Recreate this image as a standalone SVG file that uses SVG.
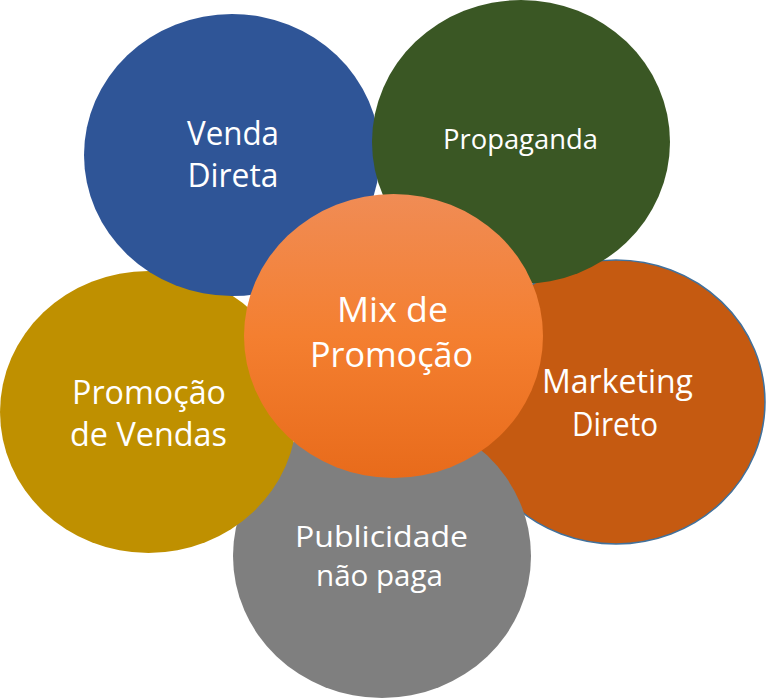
<svg xmlns="http://www.w3.org/2000/svg" width="766" height="700" viewBox="0 0 766 700">
  <defs>
    <linearGradient id="gCenter" x1="0" y1="0" x2="0" y2="1">
      <stop offset="0" stop-color="#F08C55"/>
      <stop offset="0.5" stop-color="#F47F30"/>
      <stop offset="1" stop-color="#E86B1B"/>
    </linearGradient>
  </defs>
  <style>
    text { font-family: "Open Sans", "Liberation Sans", sans-serif; fill: #FFFFFF; text-anchor: middle; }
    .t32 { font-size: 32px; }
    .t30 { font-size: 30px; }
    .t27 { font-size: 27px; }
    .t35 { font-size: 35px; }
  </style>
  <rect width="766" height="700" fill="#FFFFFF"/>
  <g id="connectors"/>
  <g id="marketing-direto">
    <ellipse cx="616" cy="402" rx="149" ry="142" fill="#C55A11" stroke="#41719C" stroke-width="1.5"/>
    <text class="t32" x="617.5" y="393" textLength="151" lengthAdjust="spacingAndGlyphs">Marketing</text>
    <text class="t32" x="615" y="436" textLength="86" lengthAdjust="spacingAndGlyphs">Direto</text>
  </g>
  <g id="publicidade-nao-paga">
    <ellipse cx="382" cy="556" rx="149" ry="142" fill="#7F7F7F"/>
    <text class="t30" x="381.5" y="547" textLength="173" lengthAdjust="spacingAndGlyphs">Publicidade</text>
    <text class="t30" x="379.5" y="586" textLength="127" lengthAdjust="spacingAndGlyphs">não paga</text>
  </g>
  <g id="promocao-de-vendas">
    <ellipse cx="148.5" cy="412" rx="148.5" ry="141" fill="#BF9000"/>
    <text class="t32" x="149" y="404" textLength="154" lengthAdjust="spacingAndGlyphs">Promoção</text>
    <text class="t32" x="148.5" y="446" textLength="157" lengthAdjust="spacingAndGlyphs">de Vendas</text>
  </g>
  <g id="venda-direta">
    <ellipse cx="232" cy="155" rx="148" ry="141" fill="#2F5597"/>
    <text class="t32" x="233" y="145" textLength="92" lengthAdjust="spacingAndGlyphs">Venda</text>
    <text class="t32" x="233" y="187" textLength="91" lengthAdjust="spacingAndGlyphs">Direta</text>
  </g>
  <g id="propaganda">
    <ellipse cx="521" cy="142" rx="149" ry="142" fill="#3A5724"/>
    <text class="t27" x="520.5" y="149" textLength="155" lengthAdjust="spacingAndGlyphs">Propaganda</text>
  </g>
  <g id="mix-de-promocao">
    <ellipse cx="393.5" cy="336" rx="149.5" ry="142" fill="url(#gCenter)"/>
    <text class="t35" x="392.5" y="322" textLength="111" lengthAdjust="spacingAndGlyphs">Mix de</text>
    <text class="t35" x="391.5" y="367" textLength="163" lengthAdjust="spacingAndGlyphs">Promoção</text>
  </g>
</svg>
